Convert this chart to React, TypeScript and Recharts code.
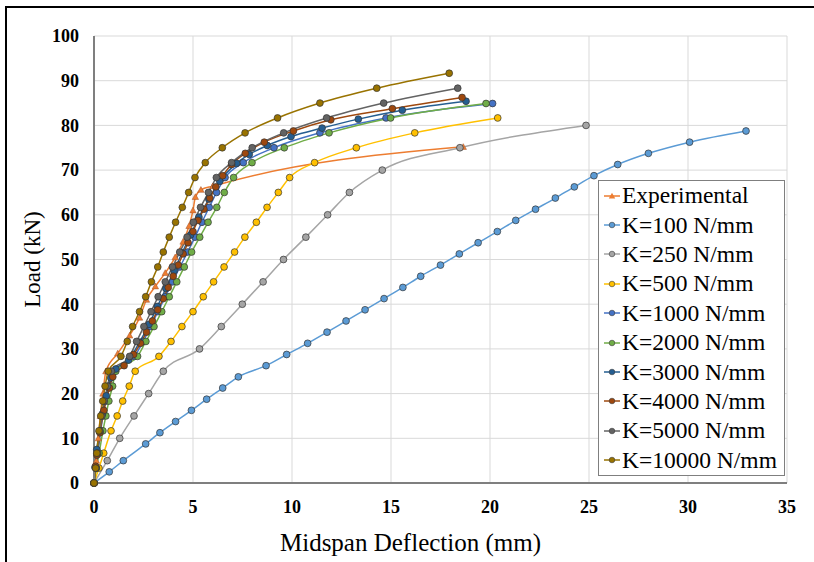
import React from 'react';
import { LineChart, Line, XAxis, YAxis, CartesianGrid, Legend } from 'recharts';

const xTicks = [0, 5, 10, 15, 20, 25, 30, 35];
const yTicks = [0, 10, 20, 30, 40, 50, 60, 70, 80, 90, 100];

const expX = [0, 0.12, 0.22, 0.32, 0.45, 0.6, 1.2, 1.8, 2.3, 2.65, 3.1, 3.6, 4.1, 4.5, 4.8, 5.0, 5.12, 5.4, 6.0, 18.65];
const expY = [0, 5, 10, 15, 20, 25, 29, 33, 37, 41, 44, 47, 50.5, 54, 57.5, 61, 64, 65.6, 66.4, 75.2];

const k100X = [0, 0.77, 1.48, 2.61, 3.33, 4.12, 4.92, 5.69, 6.5, 7.29, 8.69, 9.73, 10.79, 11.77, 12.73, 13.69, 14.65, 15.6, 16.5, 17.5, 18.45, 19.4, 20.37, 21.3, 22.3, 23.3, 24.26, 25.25, 26.45, 28.0, 30.08, 32.93];
const k100Y = [0, 2.5, 5, 8.75, 11.25, 13.75, 16.25, 18.75, 21.25, 23.75, 26.25, 28.75, 31.25, 33.75, 36.25, 38.75, 41.25, 43.75, 46.25, 48.75, 51.25, 53.75, 56.25, 58.75, 61.25, 63.75, 66.25, 68.75, 71.25, 73.75, 76.25, 78.75];

const k250X = [0, 0.67, 1.3, 2.02, 2.76, 3.5, 5.33, 6.43, 7.49, 8.54, 9.57, 10.7, 11.8, 12.9, 14.56, 18.48, 24.85];
const k250Y = [0, 5, 10, 15, 20, 25, 30, 35, 40, 45, 50, 55, 60, 65, 70, 75, 80];

const k500X = [0, 0.25, 0.49, 0.86, 1.17, 1.45, 1.78, 2.08, 3.28, 3.89, 4.44, 5.0, 5.52, 6.04, 6.57, 7.1, 7.62, 8.2, 8.74, 9.31, 9.88, 11.14, 13.25, 16.2, 20.39];
const k500Y = [0, 3.33, 6.67, 11.67, 15, 18.33, 21.67, 25, 28.33, 31.67, 35, 38.33, 41.67, 45, 48.33, 51.67, 55, 58.33, 61.67, 65, 68.33, 71.67, 75, 78.33, 81.67];

const k1000X = [0, 0.1, 0.19, 0.34, 0.45, 0.6, 0.78, 1.0, 2.05, 2.48, 2.86, 3.23, 3.6, 3.97, 4.34, 4.73, 5.1, 5.45, 5.82, 6.19, 6.62, 7.54, 9.09, 11.41, 14.75, 20.13];
const k1000Y = [0, 3.33, 6.67, 11.67, 15, 18.33, 21.67, 25, 28.33, 31.67, 35, 38.33, 41.67, 45, 48.33, 51.67, 55, 58.33, 61.67, 65, 68.33, 71.67, 75, 78.33, 81.67, 84.9];

const k2000X = [0, 0.12, 0.26, 0.45, 0.6, 0.75, 0.94, 1.1, 2.2, 2.62, 3.03, 3.42, 3.8, 4.18, 4.56, 4.93, 5.34, 5.76, 6.2, 6.58, 7.05, 7.98, 9.61, 11.87, 14.98, 19.8];
const k2000Y = [0, 3.33, 6.67, 11.67, 15, 18.33, 21.67, 25, 28.33, 31.67, 35, 38.33, 41.67, 45, 48.33, 51.67, 55, 58.33, 61.67, 65, 68.33, 71.67, 75, 78.33, 81.67, 84.9];

const k3000X = [0, 0.05, 0.14, 0.28, 0.43, 0.62, 0.85, 1.1, 1.75, 2.3, 2.78, 3.2, 3.63, 4.05, 4.45, 4.88, 5.3, 5.8, 6.35, 7.2, 7.84, 8.75, 9.95, 11.52, 13.35, 15.57, 18.79];
const k3000Y = [0, 3.5, 7.5, 11.5, 15.5, 19.5, 23.5, 25.5, 27.5, 31.5, 35.5, 39.5, 43.5, 47.5, 51.5, 55.5, 59.5, 63.5, 67.5, 71.5, 73.5, 75.5, 77.5, 79.4, 81.4, 83.4, 85.4];

const k4000X = [0, 0.08, 0.15, 0.3, 0.5, 0.78, 0.95, 1.52, 2.0, 2.35, 2.65, 2.95, 3.22, 3.5, 3.75, 4.0, 4.25, 4.5, 4.75, 5.0, 5.25, 5.55, 5.85, 6.15, 6.5, 6.95, 7.64, 8.6, 10.07, 11.96, 15.07, 18.59];
const k4000Y = [0, 3.75, 6.25, 11.25, 16.25, 21.25, 23.75, 26.25, 28.75, 31.25, 33.75, 36.25, 38.75, 41.25, 43.75, 46.25, 48.75, 51.25, 53.75, 56.25, 58.75, 61.25, 63.75, 66.25, 68.75, 71.25, 73.75, 76.25, 78.75, 81.25, 83.75, 86.25];

const k5000X = [0, 0.1, 0.18, 0.3, 0.4, 0.52, 0.68, 0.88, 1.8, 2.15, 2.52, 2.88, 3.24, 3.6, 3.96, 4.33, 4.7, 5.02, 5.38, 5.78, 6.18, 6.95, 7.99, 9.58, 11.75, 14.63, 18.37];
const k5000Y = [0, 3.33, 6.67, 11.67, 15, 18.33, 21.67, 25, 28.33, 31.67, 35, 38.33, 41.67, 45, 48.33, 51.67, 55, 58.33, 61.67, 65, 68.33, 71.67, 75, 78.33, 81.67, 85, 88.33];

const k10000X = [0, 0.08, 0.14, 0.25, 0.34, 0.44, 0.56, 0.72, 1.36, 1.68, 1.95, 2.3, 2.61, 2.9, 3.22, 3.5, 3.8, 4.12, 4.46, 4.78, 5.1, 5.62, 6.48, 7.63, 9.27, 11.41, 14.28, 17.94];
const k10000Y = [0, 3.33, 6.67, 11.67, 15, 18.33, 21.67, 25, 28.33, 31.67, 35, 38.33, 41.67, 45, 48.33, 51.67, 55, 58.33, 61.67, 65, 68.33, 71.67, 75, 78.33, 81.67, 85, 88.33, 91.67];

const seriesNames = ['Experimental', 'K=100 N/mm', 'K=250 N/mm', 'K=500 N/mm', 'K=1000 N/mm', 'K=2000 N/mm', 'K=3000 N/mm', 'K=4000 N/mm', 'K=5000 N/mm', 'K=10000 N/mm'];
const seriesColors = ['#ED7D31', '#5B9BD5', '#A5A5A5', '#FFC000', '#4472C4', '#70AD47', '#255E91', '#9E480E', '#636363', '#997300'];
const seriesXs = [expX, k100X, k250X, k500X, k1000X, k2000X, k3000X, k4000X, k5000X, k10000X];
const seriesYs = [expY, k100Y, k250Y, k500Y, k1000Y, k2000Y, k3000Y, k4000Y, k5000Y, k10000Y];

const series = seriesNames.map((name, i) => ({
  name,
  color: seriesColors[i],
  triangle: i === 0,
  data: seriesXs[i].map((x, j) => ({ x, y: seriesYs[i][j] })),
}));

const FONT = "'Liberation Serif', 'Times New Roman', serif";

const makeDot = (color: string, triangle: boolean) => (props: any) => {
  const { cx, cy, index } = props;
  if (cx == null || cy == null) return <g key={`d${index}`} />;
  if (triangle) {
    const s = 3.2;
    return (
      <path
        key={`d${index}`}
        d={`M${cx},${cy - s} L${cx + s},${cy + s * 0.8} L${cx - s},${cy + s * 0.8} Z`}
        fill={color}
        stroke="#a0522d"
        strokeWidth={0.5}
      />
    );
  }
  return <circle key={`d${index}`} cx={cx} cy={cy} r={3.4} fill={color} stroke="#333333" strokeWidth={0.7} />;
};

const LegendIcon = ({ color, triangle }: { color: string; triangle: boolean }) => (
  <svg width={18} height={12} style={{ display: 'block', flex: 'none' }}>
    <line x1={1} y1={6} x2={17} y2={6} stroke={color} strokeWidth={1.5} />
    {triangle ? (
      <path d="M9,2.8 L12.2,8.6 L5.8,8.6 Z" fill={color} />
    ) : (
      <circle cx={9} cy={6} r={2.8} fill={color} stroke="#3a3a3a" strokeWidth={0.6} />
    )}
  </svg>
);

const LegendBox = () => (
  <div
    style={{
      border: '1.5px solid #7f7f7f',
      background: '#fff',
      width: 187,
      boxSizing: 'border-box',
      padding: '0 0 0 4px',
      fontFamily: FONT,
      fontSize: 23.5,
      color: '#000',
    }}
  >
    {series.map((s) => (
      <div key={s.name} style={{ display: 'flex', alignItems: 'center', height: 29.4, whiteSpace: 'nowrap' }}>
        <LegendIcon color={s.color} triangle={s.triangle} />
        <span style={{ marginLeft: 1 }}>{s.name}</span>
      </div>
    ))}
  </div>
);

const XLabel = (props: any) => {
  const vb = props.viewBox || {};
  const cx = vb.x + vb.width / 2 - 30;
  const y = vb.y + vb.height - 2;
  return (
    <text x={cx} y={y} textAnchor="middle" fill="#000" fontFamily={FONT} fontSize={25}>
      Midspan Deflection (mm)
    </text>
  );
};

export default function App() {
  return (
    <div style={{ position: 'fixed', left: 0, top: 0, width: 814, height: 562, overflow: 'hidden', background: '#fff' }}>
      <div
        style={{
          position: 'absolute',
          left: 5,
          top: 6,
          width: 900,
          height: 700,
          borderLeft: '2px solid #000',
          borderTop: '2px solid #000',
        }}
      />
      <div style={{ position: 'absolute', left: 0, top: 0 }}>
        <LineChart width={814} height={562} margin={{ top: 36, right: 27, left: 14, bottom: 9 }}>
          <CartesianGrid stroke="#d9d9d9" strokeWidth={1} />
          <XAxis
            dataKey="x"
            type="number"
            domain={[0, 35]}
            ticks={xTicks}
            tickLine={false}
            tickSize={0}
            tickMargin={17}
            height={70}
            axisLine={{ stroke: '#7f7f7f', strokeWidth: 2 }}
            tick={{ fill: '#000', fontFamily: FONT, fontSize: 18, fontWeight: 'bold' }}
            label={{ content: XLabel }}
          />
          <XAxis
            xAxisId="top"
            orientation="top"
            type="number"
            domain={[0, 35]}
            ticks={xTicks}
            tick={false}
            tickLine={false}
            height={0}
            axisLine={{ stroke: '#595959', strokeWidth: 1.5 }}
          />
          <YAxis
            type="number"
            domain={[0, 100]}
            ticks={yTicks}
            tickLine={false}
            tickSize={0}
            tickMargin={15}
            width={80}
            axisLine={{ stroke: '#7f7f7f', strokeWidth: 2 }}
            tick={{ fill: '#000', fontFamily: FONT, fontSize: 18, fontWeight: 'bold' }}
            label={{
              value: 'Load (kN)',
              angle: -90,
              position: 'insideLeft',
              offset: 18,
              style: { fill: '#000', fontFamily: FONT, fontSize: 23, textAnchor: 'middle' },
            }}
          />
          <YAxis
            yAxisId="right"
            orientation="right"
            type="number"
            domain={[0, 100]}
            ticks={yTicks}
            tick={false}
            tickLine={false}
            width={0}
            axisLine={{ stroke: '#595959', strokeWidth: 1.5 }}
          />
          {series.map((s) => (
            <Line
              key={s.name}
              data={s.data}
              dataKey="y"
              name={s.name}
              type="monotone"
              stroke={s.color}
              strokeWidth={1.5}
              dot={makeDot(s.color, s.triangle)}
              activeDot={false}
              isAnimationActive={false}
            />
          ))}
          <Legend
            layout="vertical"
            align="center"
            verticalAlign="middle"
            wrapperStyle={{ left: 598, top: 180, width: 187 }}
            content={() => <LegendBox />}
          />
        </LineChart>
      </div>
    </div>
  );
}
